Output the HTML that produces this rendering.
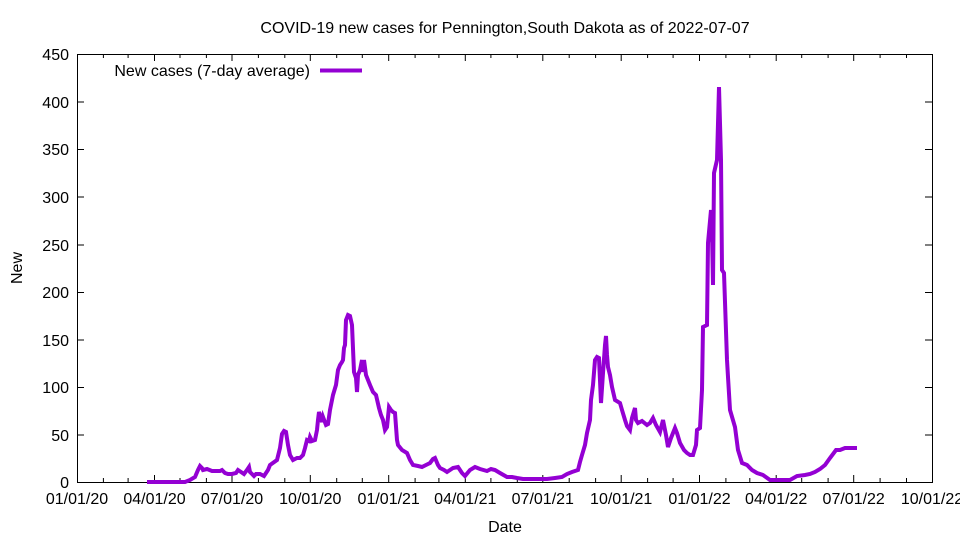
<!DOCTYPE html>
<html><head><meta charset="utf-8"><style>
html,body{margin:0;padding:0;background:#fff;}
svg{display:block;font-family:"Liberation Sans",Arial,sans-serif;}
</style></head><body>
<svg width="960" height="540" viewBox="0 0 960 540" xmlns="http://www.w3.org/2000/svg">
<rect width="960" height="540" fill="#fff"/>
<text x="505" y="33" font-size="16" text-anchor="middle">COVID-19 new cases for Pennington,South Dakota as of 2022-07-07</text>
<g stroke="#000" stroke-width="1" fill="none">
<rect x="77.5" y="54.5" width="855" height="428"/>
<path d="
M77 102h7M932 102h-7 M77 149.5h7M932 149.5h-7 M77 197h7M932 197h-7 M77 245h7M932 245h-7 M77 292.5h7M932 292.5h-7 M77 340h7M932 340h-7 M77 387.5h7M932 387.5h-7 M77 435h7M932 435h-7
"/>
<path d="
M154.5 482v-7M154.5 54v7 M232 482v-7M232 54v7 M310.3 482v-7M310.3 54v7 M388.7 482v-7M388.7 54v7 M465.3 482v-7M465.3 54v7 M542.8 482v-7M542.8 54v7 M621.2 482v-7M621.2 54v7 M699.5 482v-7M699.5 54v7 M776.2 482v-7M776.2 54v7 M853.7 482v-7M853.7 54v7
M103.4 482v-4M103.4 54v4 M128.1 482v-4M128.1 54v4 M180 482v-4M180 54v4 M206.4 482v-4M206.4 54v4 M258.4 482v-4M258.4 54v4 M284.8 482v-4M284.8 54v4 M336.7 482v-4M336.7 54v4 M362.3 482v-4M362.3 54v4 M415.1 482v-4M415.1 54v4 M438.9 482v-4M438.9 54v4 M490.9 482v-4M490.9 54v4 M517.3 482v-4M517.3 54v4 M569.2 482v-4M569.2 54v4 M595.6 482v-4M595.6 54v4 M647.6 482v-4M647.6 54v4 M673.1 482v-4M673.1 54v4 M725.9 482v-4M725.9 54v4 M749.8 482v-4M749.8 54v4 M801.7 482v-4M801.7 54v4 M828.1 482v-4M828.1 54v4 M880.1 482v-4M880.1 54v4 M906.5 482v-4M906.5 54v4
"/>
</g>
<g font-size="16" text-anchor="end">
<text x="69" y="488">0</text><text x="69" y="441">50</text><text x="69" y="393">100</text><text x="69" y="346">150</text><text x="69" y="298">200</text><text x="69" y="251">250</text><text x="69" y="203">300</text><text x="69" y="155">350</text><text x="69" y="108">400</text><text x="69" y="60">450</text>
</g>
<g font-size="16" text-anchor="middle">
<text x="77" y="504">01/01/20</text><text x="154.5" y="504">04/01/20</text><text x="232" y="504">07/01/20</text><text x="310.3" y="504">10/01/20</text><text x="388.7" y="504">01/01/21</text><text x="465.3" y="504">04/01/21</text><text x="542.8" y="504">07/01/21</text><text x="621.2" y="504">10/01/21</text><text x="699.5" y="504">01/01/22</text><text x="776.2" y="504">04/01/22</text><text x="853.7" y="504">07/01/22</text><text x="932" y="504">10/01/22</text>
<text x="505" y="532">Date</text>
<text transform="translate(22,268) rotate(-90)">New</text>
</g>
<text x="310" y="76" font-size="16" text-anchor="end">New cases (7-day average)</text>
<line x1="320" y1="70.5" x2="362" y2="70.5" stroke="#9400d3" stroke-width="4"/>
<polyline fill="none" stroke="#9400d3" stroke-width="4" stroke-linejoin="miter" points="
147,482 185,482 190,480 195,477 198,470 200,466 202,468 203,470 207,469 212,471 220,471 222,470 225,473 228,474 232,474 236,473 238,470 241,472 244,474 247,470 249,467 250,472 252,474 254,476 256,474 260,474 264,476 268,470 270,465 277,460 280,448 282,434 284,431 286,432 288,445 290,455 293,460 297,458 300,458 303,455 305,448 307,440 309,441 310,437 312,441 315,440 317,430 318,420 319,412 322,422 323,417 326,425 328,424 330,410 332,400 333,395 336,385 338,370 340,365 342,362 343,360 344,348 345,345 346,320 348,315 350,316 352,325 354,372 356,378 357,392 358,375 360,370 362,360 363,372 364,360 366,375 370,385 373,392 376,395 379,408 381,415 383,420 385,430 387,427 389,407 391,410 393,412 395,413 397,440 398,445 402,450 407,453 410,460 413,465 418,466 422,467 426,465 430,463 433,459 435,458 438,465 440,468 444,470 447,472 450,470 453,468 458,467 462,473 465,476 470,470 475,467 480,469 487,471 491,469 495,470 500,473 507,477 512,477 517,478 523,479 530,479 540,479 547,479 555,478 562,477 567,474 572,472 578,470 580,462 582,455 585,445 587,433 590,420 591,400 593,385 595,360 597,357 599,358 601,403 603,373 605,345 606,336 607,355 608,367 610,375 612,387 615,400 620,403 622,410 625,420 627,426 630,430 632,418 635,408 636,420 638,423 642,421 647,425 650,423 653,418 656,425 660,432 663,420 666,435 668,447 671,438 675,428 677,433 680,443 684,450 687,453 690,455 693,455 696,445 697,430 700,428 702,390 703,327 707,325 708,243 711,210 712,233 713,285 714,173 717,160 719,87 721,160 722,270 724,273 727,360 728,377 730,410 735,427 738,450 742,463 747,465 752,470 757,473 763,475 770,480 780,480 790,480 797,476 805,475 810,474 815,472 820,469 825,465 830,458 836,450 840,450 845,448 850,448 857,448"/>
</svg>
</body></html>
